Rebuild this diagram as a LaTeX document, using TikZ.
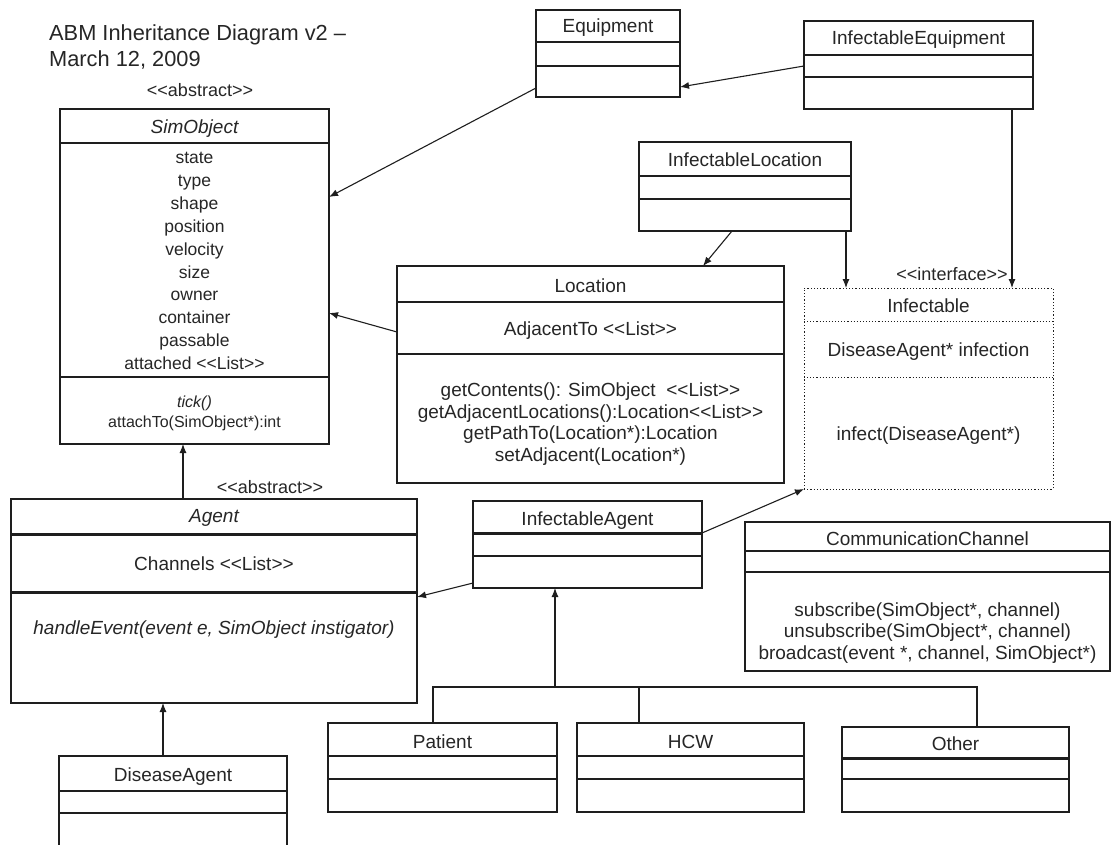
\documentclass[tikz,border=0pt]{standalone}
\usepackage{fontspec}
\setmainfont{Liberation Sans}[Ligatures=TeXOff]
\usepackage{tikz}
\usetikzlibrary{arrows.meta}

\definecolor{ink}{HTML}{262626}
\definecolor{edge}{HTML}{1E1E1E}

\tikzset{
  classbox/.style={draw=edge, line width=1.2pt, anchor=north west, inner sep=0pt, outer sep=0pt},
  txt/.style={text=ink, inner sep=0pt, anchor=base, font=\fontsize{19}{21}\selectfont},
  inherit/.style={draw=edge, line width=1.1pt, -{Latex[length=9pt,width=7pt]}},
  wire/.style={draw=edge, line width=1.1pt},
  thicksep/.style={draw=edge, line width=3pt},
}

% name, left, top, right, bottom
\newcommand{\umlclass}[6][]{%
  \node[classbox,#1,minimum width={(#5-#3)*1pt},minimum height={(#6-#4)*1pt}] (#2) at (#3,#4) {};}

\begin{document}
\begin{tikzpicture}[x=1pt,y=-1pt]

\clip (0,0) rectangle (1111,844);
\fill[white] (0,0) rectangle (1111,844);

\umlclass{so}{60}{109}{329}{444}
\umlclass{eq}{536}{10}{680}{97}
\umlclass{ieq}{804}{21}{1033}{109}
\umlclass{iloc}{639}{142}{851}{231}
\umlclass{loc}{397}{266}{784}{483}
\umlclass[dotted, line width=1pt]{inf}{804}{288}{1053}{489}
\umlclass{ag}{11}{499}{417}{703}
\umlclass{iag}{473}{501}{702}{588}
\umlclass{cc}{745}{522}{1110}{671}
\umlclass{pat}{328}{723}{557}{812}
\umlclass{hcw}{577}{723}{804}{812}
\umlclass{oth}{842}{727}{1069}{812}
\umlclass{dag}{59}{756}{287}{860}

% compartments
\foreach \cls/\ya/\yb in {so/143/377, eq/42/66, ieq/55/77, iloc/176/199, loc/302/354,
    cc/551/572, pat/756/779, hcw/756/779, dag/791/813}
  \draw[wire] (\cls.west |- 0,\ya) -- (\cls.east |- 0,\ya)
              (\cls.west |- 0,\yb) -- (\cls.east |- 0,\yb);
\draw[wire, dotted, line width=1pt] (inf.west |- 0,321) -- (inf.east |- 0,321)
                                    (inf.west |- 0,377) -- (inf.east |- 0,377);
\draw[thicksep] (ag.west |- 0,534) -- (ag.east |- 0,534)
                (ag.west |- 0,592) -- (ag.east |- 0,592);
\draw[thicksep] (iag.west |- 0,533) -- (iag.east |- 0,533);
\draw[wire] (iag.west |- 0,556) -- (iag.east |- 0,556);
\draw[thicksep] (oth.west |- 0,758) -- (oth.east |- 0,758);
\draw[wire] (oth.west |- 0,779) -- (oth.east |- 0,779);

% texts
\node[txt, font=\fontsize{21.8}{26}\selectfont, anchor=north west, align=left] (title) at (49,24)
  {ABM Inheritance Diagram v2 –\\March 12, 2009};
\node[txt, font=\fontsize{18}{21}\selectfont] (so-stereo) at (200,96) {<<abstract>>};
\node[txt, font=\fontsize{19}{21}\selectfont\itshape] (so-name) at (so.north |- 0,133) {SimObject};
\node[txt, anchor=center, align=center, font=\fontsize{17.5}{22.9}\selectfont] (so-attr) at (so.north |- 0,261)
  {state\\type\\shape\\position\\velocity\\size\\owner\\container\\passable\\attached <<List>>};
\node[txt, anchor=center, align=center, font=\fontsize{16}{20}\selectfont] (so-ops) at (so.north |- 0,413)
  {{\itshape tick()}\\attachTo(SimObject*):int};

\node[txt] (eq-name) at (eq.north |- 0,32) {Equipment};
\node[txt] (ieq-name) at (ieq.north |- 0,44) {InfectableEquipment};
\node[txt] (iloc-name) at (iloc.north |- 0,166) {InfectableLocation};

\node[txt] (loc-name) at (loc.north |- 0,292) {Location};
\node[txt] (loc-attr) at (loc.north |- 0,335) {AdjacentTo <<List>>};
\node[txt, anchor=center, align=center, font=\fontsize{19}{21.5}\selectfont] (loc-ops) at (loc.north |- 0,424)
  {getContents(): SimObject~~<<List>>\\getAdjacentLocations():Location<<List>>\\getPathTo(Location*):Location\\setAdjacent(Location*)};

\node[txt, font=\fontsize{18}{21}\selectfont] (inf-stereo) at (952,280) {<<interface>>};
\node[txt] (inf-name) at (inf.north |- 0,312) {Infectable};
\node[txt] (inf-attr) at (inf.north |- 0,356) {DiseaseAgent* infection};
\node[txt] (inf-ops) at (inf.north |- 0,440) {infect(DiseaseAgent*)};

\node[txt, font=\fontsize{18}{21}\selectfont] (ag-stereo) at (270,493) {<<abstract>>};
\node[txt, font=\fontsize{19}{21}\selectfont\itshape] (ag-name) at (ag.north |- 0,522) {Agent};
\node[txt] (ag-attr) at (ag.north |- 0,570) {Channels <<List>>};
\node[txt, font=\fontsize{19}{21}\selectfont\itshape] (ag-ops) at (ag.north |- 0,634)
  {handleEvent(event e, SimObject instigator)};

\node[txt] (iag-name) at (iag.north |- 0,525) {InfectableAgent};
\node[txt] (cc-name) at (cc.north |- 0,545) {CommunicationChannel};
\node[txt, anchor=center, align=center, font=\fontsize{19}{21.5}\selectfont] (cc-ops) at (cc.north |- 0,633)
  {subscribe(SimObject*, channel)\\unsubscribe(SimObject*, channel)\\broadcast(event *, channel, SimObject*)};

\node[txt] (pat-name) at (pat.north |- 0,748) {Patient};
\node[txt] (hcw-name) at (hcw.north |- 0,748) {HCW};
\node[txt] (oth-name) at (oth.north |- 0,750) {Other};
\node[txt] (dag-name) at (dag.north |- 0,781) {DiseaseAgent};

% generalisations
\draw[inherit] (ieq.west |- 0,66) -- (eq.east |- 0,87);
\draw[inherit] (eq.west |- 0,88) -- (so.east |- 0,197);
\draw[inherit] (loc.west |- 0,332) -- (so.east |- 0,313);
\draw[inherit] (iloc.south -| 732,0) -- (loc.north -| 703,0);
\draw[inherit] (iloc.south -| 846,0) -- (inf.north -| 846,0);
\draw[inherit] (ieq.south -| 1012,0) -- (inf.north -| 1012,0);
\draw[inherit] (ag.north -| 183,0) -- (so.south -| 183,0);
\draw[inherit] (dag.north -| 163,0) -- (ag.south -| 163,0);
\draw[inherit] (iag.west |- 0,583) -- (ag.east |- 0,597);
\draw[inherit] (iag.east |- 0,533) -- (inf.south west);

\coordinate (bus) at (555,687);
\draw[inherit] (bus) -- (bus |- iag.south);
\draw[wire] (pat.north -| 433,0) |- (bus) -| (oth.north -| 977,0);
\draw[wire] (hcw.north -| 639,0) -- (bus -| 639,0);

\end{tikzpicture}
\end{document}
